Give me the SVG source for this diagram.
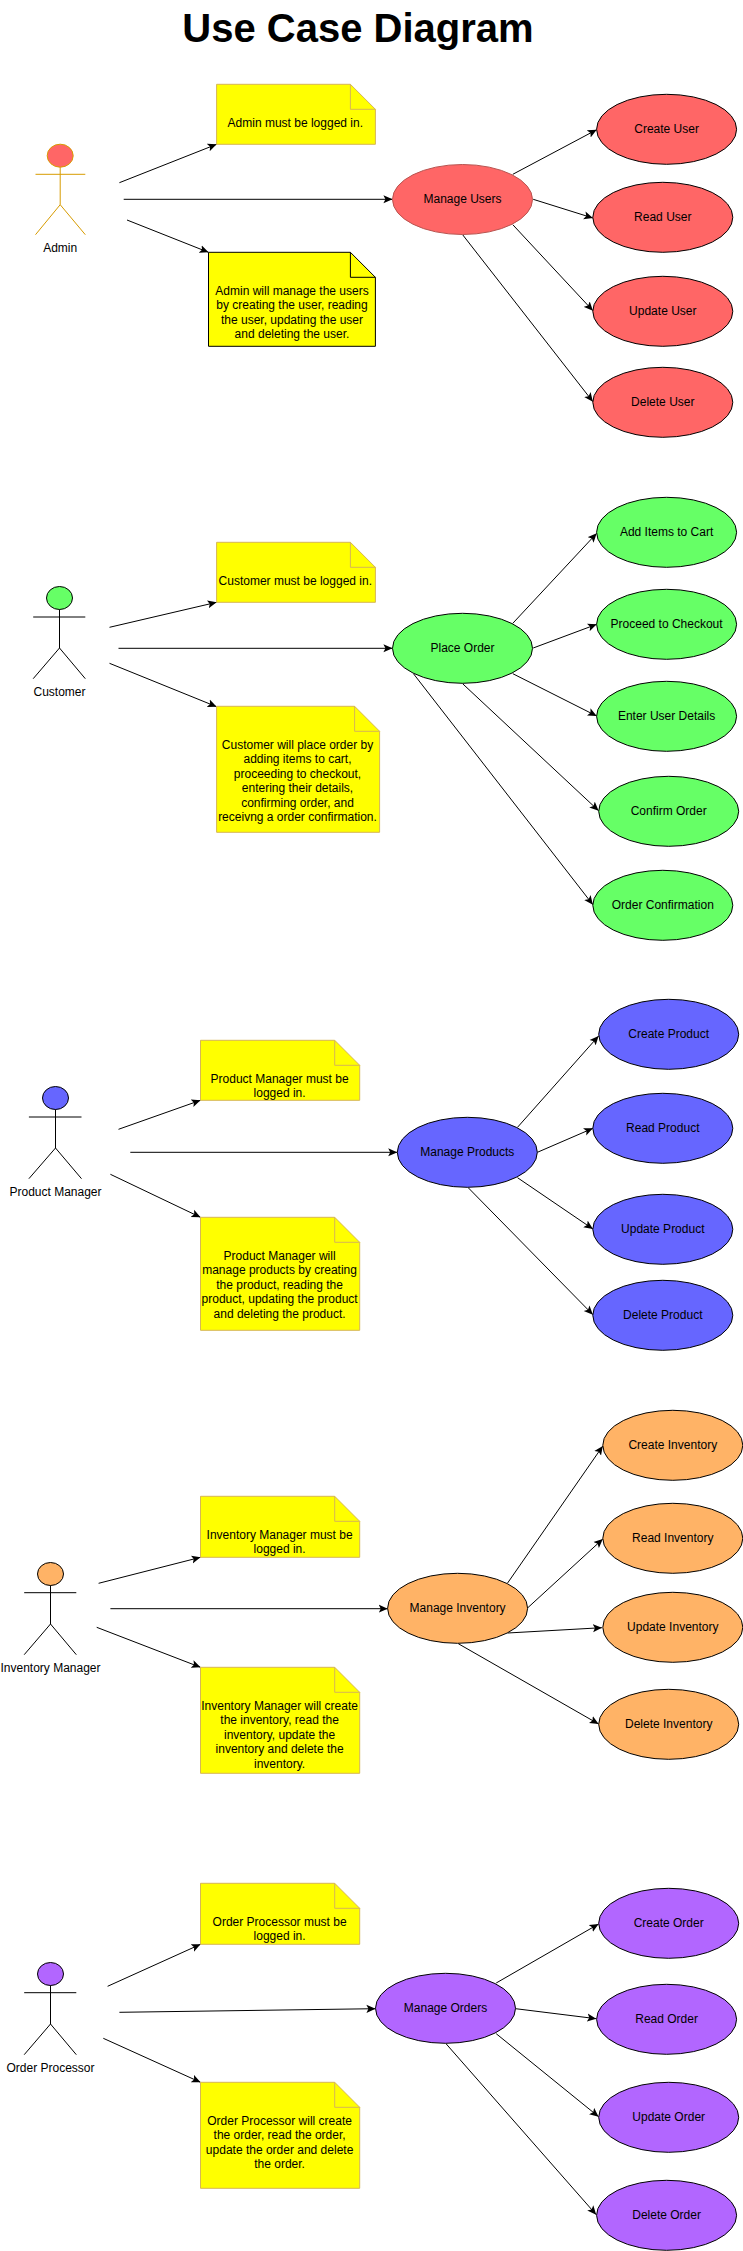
<svg xmlns="http://www.w3.org/2000/svg" width="743" height="2251" viewBox="0 0 743 2251">
<style>
text{font-family:"Liberation Sans",Arial,sans-serif;font-size:12px;fill:#000;text-anchor:middle}
.title{font-size:40px;font-weight:bold}
.bg{fill:#fff}
.stick{fill:none;stroke:#000;stroke-width:1}
.astick{fill:none;stroke:#d79b00;stroke-width:1}
.uc{stroke:#000;stroke-width:1}
.red{fill:#ff6666}.green{fill:#66ff66}.blue{fill:#6666ff}.orange{fill:#ffb366}.purple{fill:#b266ff}
.note{fill:#ffff00;stroke:#d6b656;stroke-width:1}
.noteb{fill:#ffff00;stroke:#000;stroke-width:1}
.fold{fill:none}
#connectors line{stroke:#000;stroke-width:1;marker-end:url(#arrow)}
</style>
<defs>
<marker id="arrow" viewBox="0 0 10 10" refX="10" refY="5" markerWidth="9" markerHeight="9" markerUnits="userSpaceOnUse" orient="auto">
<path d="M10,5 L0,0.5 L2.25,5 L0,9.5 Z" fill="#000"/>
</marker>
</defs>
<rect class="bg" width="743" height="2251"/>
<text id="title" class="title" x="358" y="42">Use Case Diagram</text>

<g id="connectors">
<line x1="119.4" y1="182.7" x2="216.6" y2="144.3"/>
<line x1="123.7" y1="199.3" x2="392.4" y2="199.3"/>
<line x1="127" y1="220" x2="208.5" y2="252.3"/>
<line x1="512.8" y1="174.3" x2="596.7" y2="129.7"/>
<line x1="533.2" y1="199.3" x2="592.9" y2="218"/>
<line x1="512.8" y1="224.7" x2="592.9" y2="310.7"/>
<line x1="462.6" y1="234.7" x2="592.9" y2="401.7"/>

<line x1="109.5" y1="627.3" x2="216.6" y2="602.3"/>
<line x1="118.5" y1="648.3" x2="392.4" y2="648.3"/>
<line x1="109.5" y1="663.3" x2="216.6" y2="706.7"/>
<line x1="512.8" y1="623.3" x2="596.7" y2="533.3"/>
<line x1="533.2" y1="648" x2="596.7" y2="624.3"/>
<line x1="512.8" y1="673.7" x2="596.7" y2="716"/>
<line x1="462.6" y1="683.7" x2="598.6" y2="810.7"/>
<line x1="413.7" y1="674" x2="592.9" y2="904.7"/>

<line x1="118.5" y1="1129.3" x2="200.5" y2="1100.3"/>
<line x1="130.3" y1="1152.3" x2="397.2" y2="1152.3"/>
<line x1="110.4" y1="1174.3" x2="200.5" y2="1217.3"/>
<line x1="517.5" y1="1127.3" x2="598.6" y2="1036"/>
<line x1="537.4" y1="1152.3" x2="592.9" y2="1128.3"/>
<line x1="517.5" y1="1177.7" x2="592.9" y2="1229"/>
<line x1="468.2" y1="1187.7" x2="592.9" y2="1314.7"/>

<line x1="98.6" y1="1583.3" x2="200.5" y2="1557.3"/>
<line x1="110.4" y1="1608.7" x2="387.7" y2="1608.7"/>
<line x1="96.7" y1="1627.3" x2="200.5" y2="1667.3"/>
<line x1="507.6" y1="1583" x2="602.8" y2="1446"/>
<line x1="527.5" y1="1608" x2="602.8" y2="1539"/>
<line x1="507.6" y1="1633" x2="601.9" y2="1627.7"/>
<line x1="458.3" y1="1643.7" x2="598.6" y2="1724"/>

<line x1="107.6" y1="1986.3" x2="200.5" y2="1944.3"/>
<line x1="119.4" y1="2012.3" x2="375.4" y2="2008.7"/>
<line x1="103.3" y1="2038.3" x2="200.5" y2="2082.3"/>
<line x1="496.2" y1="1983" x2="598.6" y2="1924"/>
<line x1="515.6" y1="2008.7" x2="596.2" y2="2018.7"/>
<line x1="496.2" y1="2033.7" x2="598.6" y2="2116.7"/>
<line x1="446" y1="2043.7" x2="596.2" y2="2214.7"/>
</g>

<g id="actor-admin" class="astick">
<ellipse class="red" cx="60.2" cy="155.7" rx="13" ry="11.5"/>
<path d="M60.2 167.2V204.7M35.5 174.3H85.3M60.2 204.7L35.5 234.7M60.2 204.7L85.3 234.7"/>
</g>
<text x="60.2" y="251.7">Admin</text>
<g id="actor-customer" class="stick">
<ellipse class="green" cx="59.5" cy="598" rx="13" ry="11.5"/>
<path d="M59.5 609.5V648M33.2 617H85.3M59.5 648L33.2 678.7M59.5 648L85.3 678.7"/>
</g>
<text x="59.5" y="695.7">Customer</text>
<g id="actor-product-manager" class="stick">
<ellipse class="blue" cx="55.5" cy="1098" rx="13" ry="11.5"/>
<path d="M55.5 1109.5V1148M28.9 1117H81.5M55.5 1148L28.9 1178.7M55.5 1148L81.5 1178.7"/>
</g>
<text x="55.5" y="1195.7">Product Manager</text>
<g id="actor-inventory-manager" class="stick">
<ellipse class="orange" cx="50.5" cy="1574" rx="13" ry="11.5"/>
<path d="M50.5 1585.5V1624M24.2 1592.7H76.3M50.5 1624L24.2 1654.7M50.5 1624L76.3 1654.7"/>
</g>
<text x="50.5" y="1671.7">Inventory Manager</text>
<g id="actor-order-processor" class="stick">
<ellipse class="purple" cx="50.5" cy="1974" rx="13" ry="11.5"/>
<path d="M50.5 1985.5V2024M24.2 1992.7H76.3M50.5 2024L24.2 2054.7M50.5 2024L76.3 2054.7"/>
</g>
<text x="50.5" y="2071.7">Order Processor</text>

<g id="note-admin-1">
<path class="note" d="M216.6 84.3H350.4L375.4 109.3V144.3H216.6Z"/><path class="note fold" d="M350.4 84.3V109.3H375.4"/>
<text x="295.3" y="126.7">Admin must be logged in.</text>
</g>
<g id="note-admin-2">
<path class="noteb" d="M208.5 252.3H350.4L375.4 277.3V346.3H208.5Z"/><path class="noteb fold" d="M350.4 252.3V277.3H375.4"/>
<text x="292" y="294.7">Admin will manage the users</text>
<text x="292" y="309">by creating the user, reading</text>
<text x="292" y="324">the user, updating the user</text>
<text x="292" y="338">and deleting the user.</text>
</g>
<g id="note-customer-1">
<path class="note" d="M216.6 542.3H350.4L375.4 567.3V602.3H216.6Z"/><path class="note fold" d="M350.4 542.3V567.3H375.4"/>
<text x="295.3" y="584.7">Customer must be logged in.</text>
</g>
<g id="note-customer-2">
<path class="note" d="M216.6 706.3H354.6L379.6 731.3V832.3H216.6Z"/><path class="note fold" d="M354.6 706.3V731.3H379.6"/>
<text x="297.5" y="749">Customer will place order by</text>
<text x="297.5" y="763">adding items to cart,</text>
<text x="297.5" y="778">proceeding to checkout,</text>
<text x="297.5" y="792">entering their details,</text>
<text x="297.5" y="806.7">confirming order, and</text>
<text x="297.5" y="820.7">receivng a order confirmation.</text>
</g>
<g id="note-product-1">
<path class="note" d="M200.5 1040.3H334.7L359.7 1065.3V1100.3H200.5Z"/><path class="note fold" d="M334.7 1040.3V1065.3H359.7"/>
<text x="279.6" y="1082.7">Product Manager must be</text>
<text x="279.6" y="1096.7">logged in.</text>
</g>
<g id="note-product-2">
<path class="note" d="M200.5 1217.3H334.7L359.7 1242.3V1330.3H200.5Z"/><path class="note fold" d="M334.7 1217.3V1242.3H359.7"/>
<text x="279.6" y="1259.7">Product Manager will</text>
<text x="279.6" y="1274">manage products by creating</text>
<text x="279.6" y="1288.7">the product, reading the</text>
<text x="279.6" y="1302.7">product, updating the product</text>
<text x="279.6" y="1317.7">and deleting the product.</text>
</g>
<g id="note-inventory-1">
<path class="note" d="M200.5 1496.3H334.7L359.7 1521.3V1557.3H200.5Z"/><path class="note fold" d="M334.7 1496.3V1521.3H359.7"/>
<text x="279.6" y="1538.7">Inventory Manager must be</text>
<text x="279.6" y="1552.7">logged in.</text>
</g>
<g id="note-inventory-2">
<path class="note" d="M200.5 1667.3H334.7L359.7 1692.3V1773.3H200.5Z"/><path class="note fold" d="M334.7 1667.3V1692.3H359.7"/>
<text x="279.6" y="1709.7">Inventory Manager will create</text>
<text x="279.6" y="1723.7">the inventory, read the</text>
<text x="279.6" y="1738.7">inventory, update the</text>
<text x="279.6" y="1752.7">inventory and delete the</text>
<text x="279.6" y="1767.7">inventory.</text>
</g>
<g id="note-order-1">
<path class="note" d="M200.5 1883.3H334.7L359.7 1908.3V1944.3H200.5Z"/><path class="note fold" d="M334.7 1883.3V1908.3H359.7"/>
<text x="279.6" y="1925.7">Order Processor must be</text>
<text x="279.6" y="1939.7">logged in.</text>
</g>
<g id="note-order-2">
<path class="note" d="M200.5 2082.3H334.7L359.7 2107.3V2188.3H200.5Z"/><path class="note fold" d="M334.7 2082.3V2107.3H359.7"/>
<text x="279.6" y="2124.7">Order Processor will create</text>
<text x="279.6" y="2138.7">the order, read the order,</text>
<text x="279.6" y="2153.7">update the order and delete</text>
<text x="279.6" y="2167.7">the order.</text>
</g>

<g id="uc-manage-users"><ellipse class="red" stroke="#b85450" cx="462.5" cy="199.5" rx="70" ry="35"/><text x="462.5" y="203">Manage Users</text></g>
<g id="uc-create-user"><ellipse class="uc red" cx="666.6" cy="129.3" rx="70" ry="35"/><text x="666.6" y="132.7">Create User</text></g>
<g id="uc-read-user"><ellipse class="uc red" cx="662.8" cy="217.3" rx="70" ry="35"/><text x="662.8" y="220.7">Read User</text></g>
<g id="uc-update-user"><ellipse class="uc red" cx="662.8" cy="311.3" rx="70" ry="35"/><text x="662.8" y="314.7">Update User</text></g>
<g id="uc-delete-user"><ellipse class="uc red" cx="662.8" cy="402.3" rx="70" ry="35"/><text x="662.8" y="405.7">Delete User</text></g>

<g id="uc-place-order"><ellipse class="uc green" cx="462.5" cy="648.3" rx="70" ry="35"/><text x="462.5" y="651.7">Place Order</text></g>
<g id="uc-add-items"><ellipse class="uc green" cx="666.6" cy="532.3" rx="70" ry="35"/><text x="666.6" y="535.7">Add Items to Cart</text></g>
<g id="uc-proceed"><ellipse class="uc green" cx="666.6" cy="624.3" rx="70" ry="35"/><text x="666.6" y="627.7">Proceed to Checkout</text></g>
<g id="uc-enter-details"><ellipse class="uc green" cx="666.6" cy="716.3" rx="70" ry="35"/><text x="666.6" y="719.7">Enter User Details</text></g>
<g id="uc-confirm"><ellipse class="uc green" cx="668.7" cy="811.3" rx="70" ry="35"/><text x="668.7" y="814.7">Confirm Order</text></g>
<g id="uc-order-confirmation"><ellipse class="uc green" cx="662.8" cy="905.3" rx="70" ry="35"/><text x="662.8" y="908.7">Order Confirmation</text></g>

<g id="uc-manage-products"><ellipse class="uc blue" cx="467.3" cy="1152.3" rx="70" ry="35"/><text x="467.3" y="1155.7">Manage Products</text></g>
<g id="uc-create-product"><ellipse class="uc blue" cx="668.7" cy="1034.3" rx="70" ry="35"/><text x="668.7" y="1037.7">Create Product</text></g>
<g id="uc-read-product"><ellipse class="uc blue" cx="662.8" cy="1128.3" rx="70" ry="35"/><text x="662.8" y="1131.7">Read Product</text></g>
<g id="uc-update-product"><ellipse class="uc blue" cx="662.8" cy="1229.3" rx="70" ry="35"/><text x="662.8" y="1232.7">Update Product</text></g>
<g id="uc-delete-product"><ellipse class="uc blue" cx="662.8" cy="1315.3" rx="70" ry="35"/><text x="662.8" y="1318.7">Delete Product</text></g>

<g id="uc-manage-inventory"><ellipse class="uc orange" cx="457.6" cy="1608.3" rx="70" ry="35"/><text x="457.6" y="1611.7">Manage Inventory</text></g>
<g id="uc-create-inventory"><ellipse class="uc orange" cx="672.8" cy="1445.3" rx="70" ry="35"/><text x="672.8" y="1448.7">Create Inventory</text></g>
<g id="uc-read-inventory"><ellipse class="uc orange" cx="672.8" cy="1538.3" rx="70" ry="35"/><text x="672.8" y="1541.7">Read Inventory</text></g>
<g id="uc-update-inventory"><ellipse class="uc orange" cx="672.8" cy="1627.3" rx="70" ry="35"/><text x="672.8" y="1630.7">Update Inventory</text></g>
<g id="uc-delete-inventory"><ellipse class="uc orange" cx="668.7" cy="1724.3" rx="70" ry="35"/><text x="668.7" y="1727.7">Delete Inventory</text></g>

<g id="uc-manage-orders"><ellipse class="uc purple" cx="445.5" cy="2008.3" rx="70" ry="35"/><text x="445.5" y="2011.7">Manage Orders</text></g>
<g id="uc-create-order"><ellipse class="uc purple" cx="668.7" cy="1923.3" rx="70" ry="35"/><text x="668.7" y="1926.7">Create Order</text></g>
<g id="uc-read-order"><ellipse class="uc purple" cx="666.6" cy="2019.3" rx="70" ry="35"/><text x="666.6" y="2022.7">Read Order</text></g>
<g id="uc-update-order"><ellipse class="uc purple" cx="668.7" cy="2117.3" rx="70" ry="35"/><text x="668.7" y="2120.7">Update Order</text></g>
<g id="uc-delete-order"><ellipse class="uc purple" cx="666.6" cy="2215.3" rx="70" ry="35"/><text x="666.6" y="2218.7">Delete Order</text></g>
</svg>
